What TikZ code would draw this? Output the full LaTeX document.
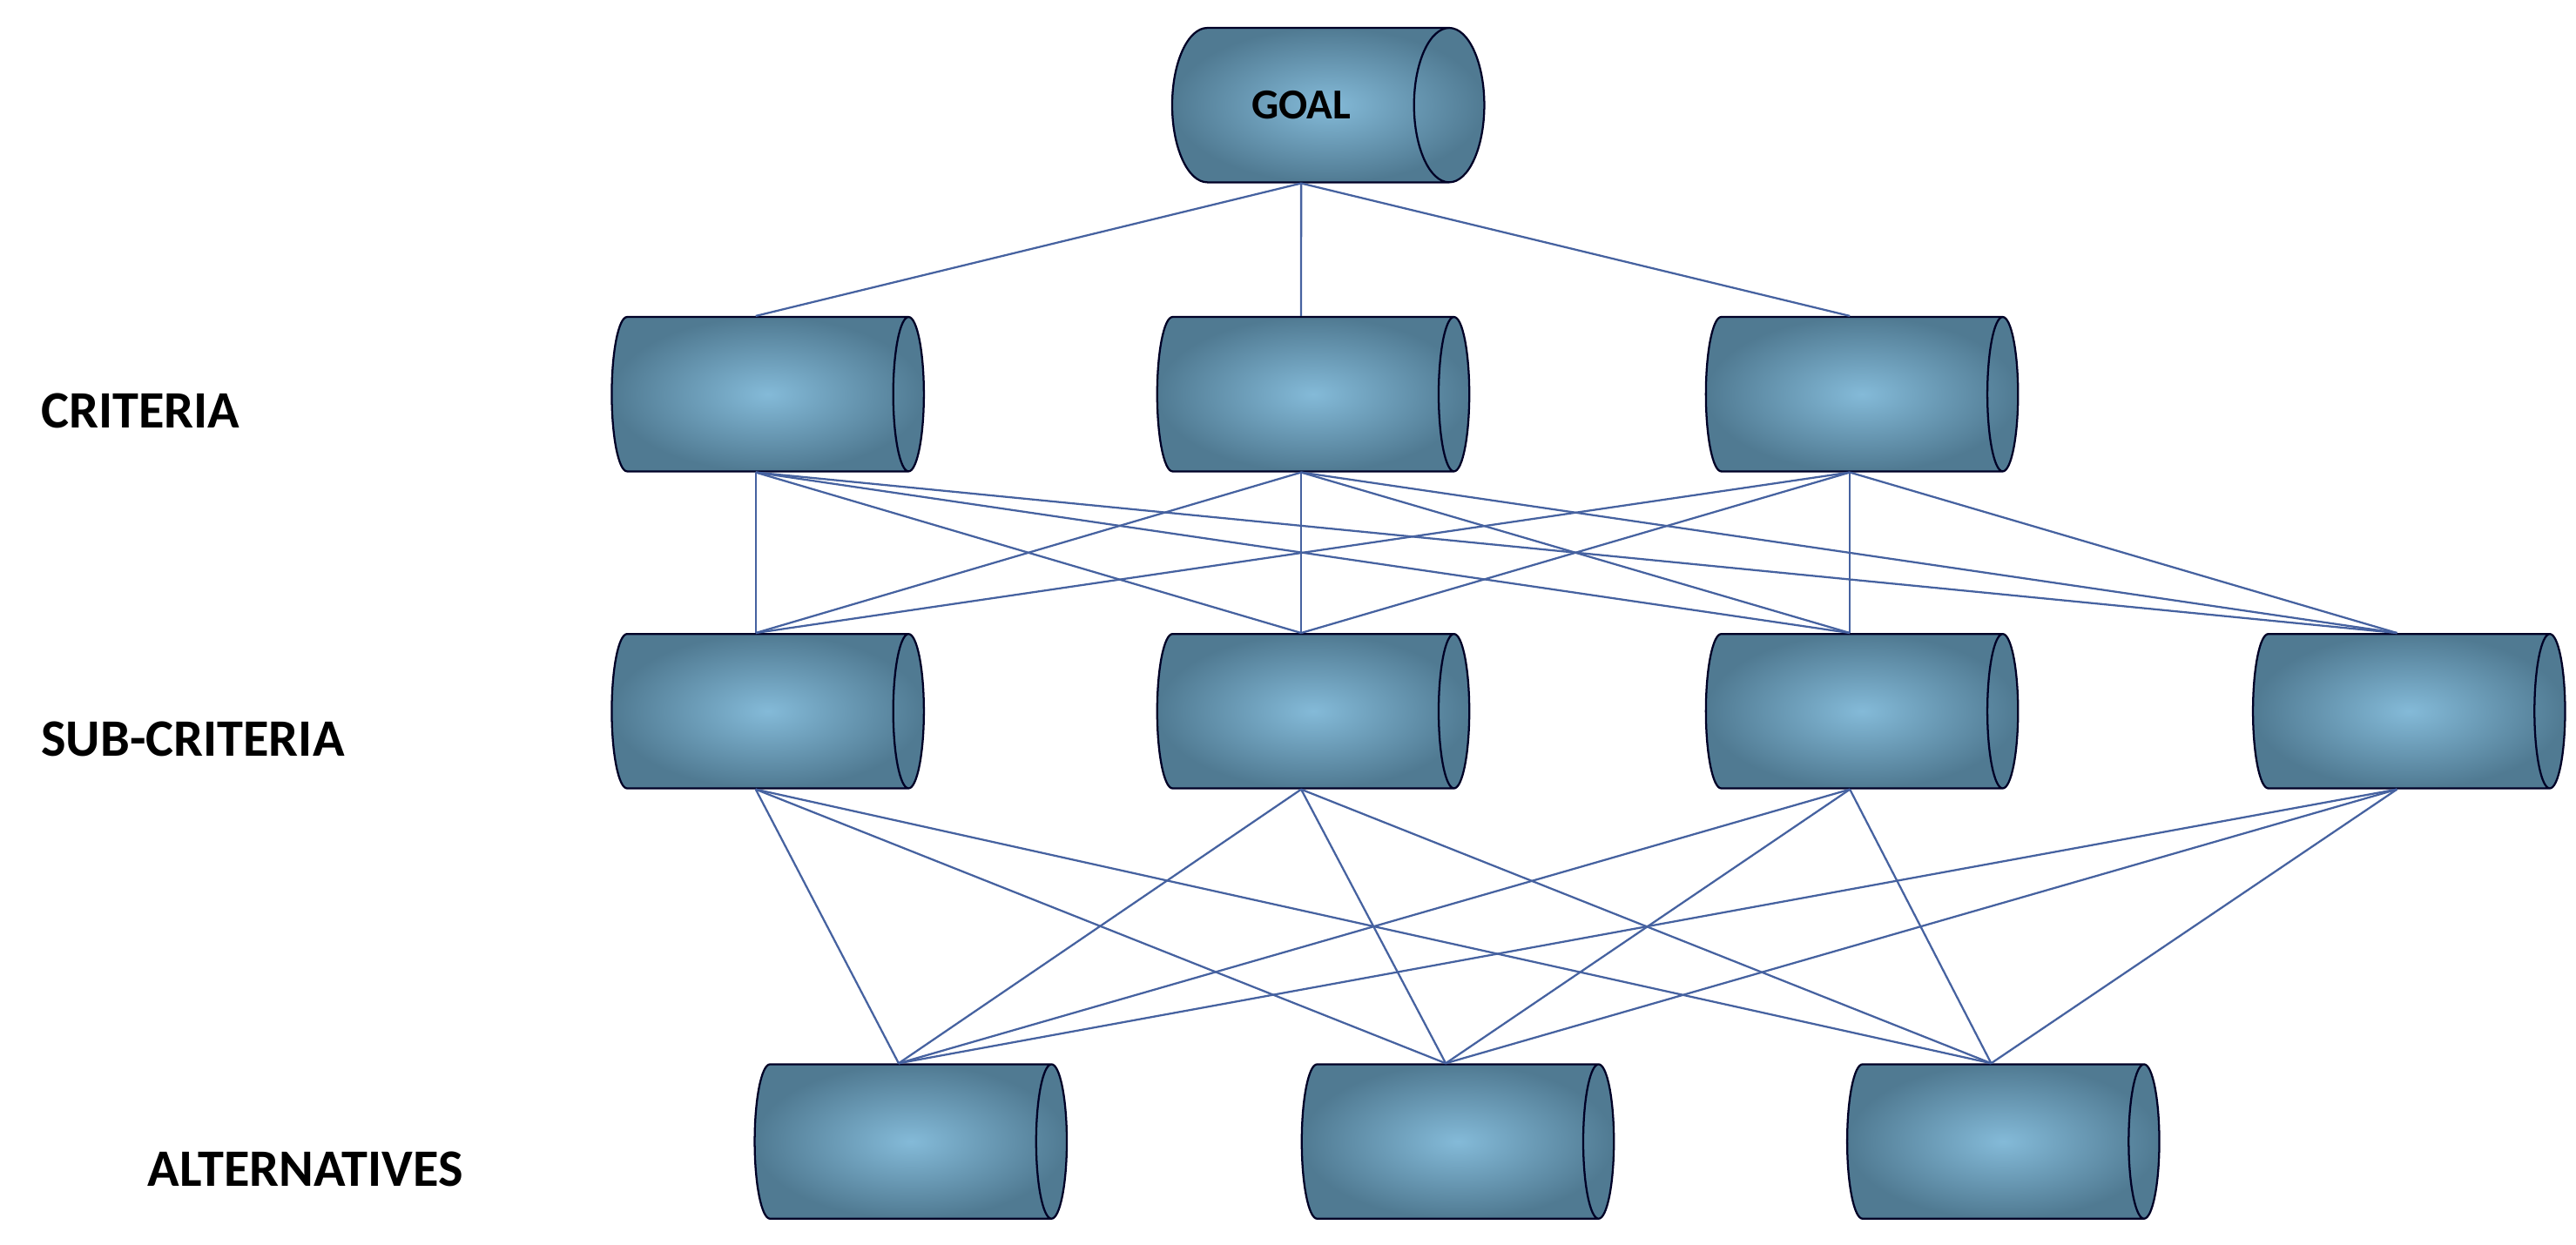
\documentclass[tikz,border=0pt]{standalone}
\usepackage{fontspec}
\setmainfont{Carlito}
\usetikzlibrary{shapes.geometric}
\begin{document}
\begin{tikzpicture}[x=0.5pt,y=-0.5pt,
 box/.style={cylinder, shape aspect=1.4, minimum width=47pt, minimum height=95pt, draw=black!85!blue, line width=0.6pt, shading=radial, inner color={rgb,255:red,132;green,186;blue,216}, outer color={rgb,255:red,80;green,122;blue,146}, font=\bfseries\fontsize{13}{15}\selectfont, text=black},
 lab/.style={anchor=west, font=\bfseries\fontsize{16}{19}\selectfont},
 ln/.style={draw={rgb,255:red,70;green,98;blue,160}, line width=0.6pt}]
\useasboundingbox (0,0) rectangle (1568,758);
\node[box] (g) at (792,64) {GOAL};
\node[box] (c1) at (460,240) {};
\node[box] (c2) at (792,240) {};
\node[box] (c3) at (1126,240) {};
\node[box] (s1) at (460,433) {};
\node[box] (s2) at (792,433) {};
\node[box] (s3) at (1126,433) {};
\node[box] (s4) at (1459,433) {};
\node[box] (a1) at (547,695) {};
\node[box] (a2) at (880,695) {};
\node[box] (a3) at (1212,695) {};
\node[lab] (lc) at (18,250) {CRITERIA};
\node[lab] (ls) at (18,450) {SUB-CRITERIA};
\node[lab] (la) at (83,712) {ALTERNATIVES};
\foreach \c in {c1,c2,c3} \draw[ln] (g.south) -- (\c.north);
\foreach \c in {c1,c2,c3} \foreach \s in {s1,s2,s3,s4} \draw[ln] (\c.south) -- (\s.north);
\foreach \s in {s1,s2,s3,s4} \foreach \a in {a1,a2,a3} \draw[ln] (\s.south) -- (\a.north);
\end{tikzpicture}
\end{document}
